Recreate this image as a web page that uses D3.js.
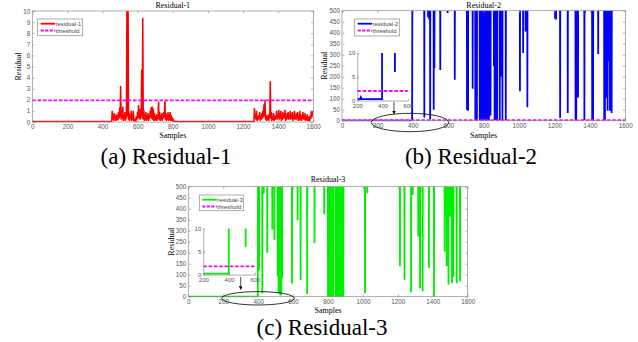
<!DOCTYPE html>
<html><head><meta charset="utf-8">
<script src="https://cdn.jsdelivr.net/npm/d3@7"></script>
<style>body{margin:0;background:#fff}svg{display:block}</style>
</head><body>
<svg id="c" width="638" height="342"></svg>
<script>
// ---------------- data ----------------
const xTicks = [0,200,400,600,800,1000,1200,1400,1600];
const yTicksR1 = [0,1,2,3,4,5,6,7,8,9,10];
const yTicksR23 = [0,50,100,150,200,250,300,350,400,450,500];
const insetXTicks = [200,400,600];
const insetYTicks = [0,5,10];
const threshold1 = 1.95, threshold2 = 2.0, threshold3 = 1.8;
const captions = ["(a) Residual-1","(b) Residual-2","(c) Residual-3"];

// residual-1: quiet level and two noisy bursts (peaks every 6 samples, troughs between)
const res1Quiet = 0.05;
const burst1Start = 455;
const burst1Peaks = [1.0,0.6,0.8,0.5,0.7,0.6,0.9,1.3,3.25,0.7,1.4,0.6,0.9,0.5,12,12,0.8,0.6,1.0,0.7,1.0,0.3,0.2,0.5,0.9,1.5,1.2,0.7,4.7,9.4,1.1,0.7,0.9,0.6,0.8,0.5,1.0,1.35,1.4,1.2,0.8,0.5,0.7,0.6,1.85,0.9,0.6,0.8,0.7,0.9,1.9,0.8,0.6,0.9,0.7,0.9,0.6,0.4,0.2];
const burst1Troughs = [0.2,0.1,0.3,0.1,0.2,0.15,0.3,0.4,0.2,0.3,0.1,0.2,0.1,0.3,0.5,0.2,0.1,0.3,0.1,0.2,0.05,0.05,0.1,0.2,0.4,0.3,0.2,0.6,0.3,0.2,0.1,0.2,0.1,0.2,0.1,0.3,0.4,0.3,0.2,0.1,0.1,0.2,0.1,0.3,0.2,0.1,0.2,0.1,0.3,0.4,0.2,0.1,0.2,0.1,0.2,0.1,0.1,0.05];
const burst2Start = 1265;
const burst2Peaks = [1.25,0.7,1.0,0.5,0.6,0.9,0.5,0.8,1.0,1.6,2.0,0.6,0.5,0.7,0.4,3.7,0.9,0.4,0.8,0.6,0.5,1.0,0.7,1.1,0.8,1.0,0.6,0.9,0.7,1.1,0.5,0.8,0.9,0.6,1.0,0.7,0.9,0.5,1.0,0.6,0.8,0.9,0.4,1.0,0.7,0.5,0.9,0.6,0.8,0.4,0.7,0.5,0.3,0.6,1.0,0.9];
const burst2Troughs = [0.3,0.2,0.1,0.2,0.3,0.1,0.2,0.3,0.4,0.5,0.2,0.1,0.2,0.1,0.6,0.3,0.1,0.2,0.1,0.2,0.3,0.2,0.4,0.2,0.3,0.1,0.2,0.3,0.4,0.1,0.2,0.3,0.2,0.3,0.2,0.3,0.1,0.3,0.2,0.2,0.3,0.1,0.3,0.2,0.1,0.3,0.2,0.2,0.1,0.2,0.1,0.1,0.2,0.3,0.4];
const res1End = [1600, 0.95];

// residual-2: low before fault, then mostly off-scale with dips [sample, value]
const res2Pre = [[0,0.3],[222,0.3],[228,0.7],[234,0.3],[396,0.3]];
const res2Rise = 398;
const res2High = 900;
const res2Dips = [[465,15],[486,470],[492,460],[498,6],[518,50],[522,240],[555,230],[596,490],[637,186],[706,50],[712,45],[738,145],[753,2],[758,5],[762,2],[778,3],[788,4],[792,0],[795,10],[799,2],[802,0],[806,5],[809,1],[813,0],[816,8],[820,2],[823,0],[827,4],[830,1],[834,20],[839,25],[858,250],[862,3],[870,2],[876,0],[891,3],[897,200],[906,1],[925,3],[1005,134],[1023,308],[1037,406],[1047,61],[1203,464],[1209,460],[1232,12],[1275,35],[1319,2],[1323,0],[1333,106],[1369,3],[1372,490],[1413,2],[1418,0],[1447,303],[1481,2],[1485,0],[1490,102],[1500,45],[1508,270],[1513,45],[1523,35]];

// residual-3
const res3Pre = [[0,0.2],[398,0.2]];
const res3Rise = 400;
const res3High = 900;
const res3Dips = [[405,120],[424,14],[432,468],[452,199],[481,305],[493,259],[512,95],[517,14],[521,90],[525,12],[529,6],[533,13],[537,85],[594,60],[626,348],[643,76],[681,12],[723,244],[778,375],[800,0],[804,3],[807,0],[811,5],[814,0],[818,2],[821,0],[825,4],[829,0],[843,0],[847,5],[851,250],[856,0],[860,3],[867,0],[872,2],[877,0],[882,4],[888,0],[1012,17],[1025,470],[1212,138],[1238,77],[1276,20],[1285,462],[1317,274],[1327,38],[1342,25],[1378,132],[1407,0],[1468,206],[1474,364],[1480,140],[1490,55],[1500,365],[1510,62],[1518,91],[1537,61],[1556,70]];

// ---------------- build series ----------------
function burstSeries(start, peaks, troughs) {
  const pts = [];
  peaks.forEach((p, i) => {
    pts.push([start + 6 * i, p]);
    if (troughs[i] !== undefined) pts.push([start + 6 * i + 3, troughs[i]]);
  });
  return pts;
}
const series1 = [[0,res1Quiet],[burst1Start-3,res1Quiet]]
  .concat(burstSeries(burst1Start, burst1Peaks, burst1Troughs))
  .concat([[burst1Start+6*burst1Peaks.length,res1Quiet],[burst2Start-3,res1Quiet]])
  .concat(burstSeries(burst2Start, burst2Peaks, burst2Troughs))
  .concat([res1End]);

function dipSeries(pre, rise, high, dips) {
  const pts = pre.slice();
  pts.push([rise, high]);
  dips.slice().sort((a,b)=>a[0]-b[0]).forEach(([s,v]) => {
    pts.push([s-1.2, high],[s, v],[s+1.2, high]);
  });
  pts.push([1600, high]);
  return pts;
}
const series2 = dipSeries(res2Pre, res2Rise, res2High, res2Dips);
const series3 = dipSeries(res3Pre, res3Rise, res3High, res3Dips);

// ---------------- drawing ----------------
const svg = d3.select('#c');
const defs = svg.append('defs');
defs.append('marker').attr('id','arr').attr('viewBox','0 0 10 10').attr('refX',9).attr('refY',5)
  .attr('markerWidth',5).attr('markerHeight',5).attr('orient','auto')
  .append('path').attr('d','M0,0L10,5L0,10z').attr('fill','#000');

const GRAY = '#8a8a8a';
const TICKFONT = "'Liberation Sans', Arial, sans-serif";
const SERIF = "'Liberation Serif', 'Times New Roman', 'DejaVu Serif', serif";
const MAGENTA = '#ff00ff';

function styleAxis(sel, fs) {
  sel.selectAll('.domain').remove();
  sel.selectAll('.tick line').attr('stroke', GRAY).attr('stroke-width', 0.6);
  sel.selectAll('.tick text').attr('fill', '#555').attr('font-size', fs).style('font-family', TICKFONT);
}

function panel(o) {
  const x = d3.scaleLinear().domain([0,1600]).range([o.x0,o.x1]);
  const y = d3.scaleLinear().domain([0,o.ymax]).range([o.yb,o.yt]);
  const g = svg.append('g');
  const cid = 'clip' + o.id;
  defs.append('clipPath').attr('id', cid).append('rect')
    .attr('x', o.x0).attr('y', o.yt).attr('width', o.x1 - o.x0).attr('height', o.yb - o.yt + 0.5);
  const line = d3.line().x(d => x(d[0])).y(d => y(d[1]));
  g.append('path').datum(o.data).attr('clip-path', `url(#${cid})`).attr('d', line)
    .attr('fill','none').attr('stroke', o.color).attr('stroke-width', o.sw).attr('stroke-linejoin','miter');
  if (o.thrMain) {
    g.append('path').datum([[0,o.thr],[1600,o.thr]]).attr('clip-path', `url(#${cid})`).attr('d', line)
      .attr('fill','none').attr('stroke', MAGENTA).attr('stroke-width', 1.8).attr('stroke-dasharray','3.5,1.8');
  }
  // frame
  g.append('rect').attr('x', o.x0).attr('y', o.yt).attr('width', o.x1 - o.x0).attr('height', o.yb - o.yt)
    .attr('fill','none').attr('stroke', GRAY).attr('stroke-width', 0.7);
  // axes
  const ab = g.append('g').attr('transform', `translate(0,${o.yb})`)
    .call(d3.axisBottom(x).tickValues(xTicks).tickSize(-2.5).tickPadding(2.5).tickFormat(d3.format('d')));
  styleAxis(ab, 6.3);
  const at = g.append('g').attr('transform', `translate(0,${o.yt})`)
    .call(d3.axisTop(x).tickValues(xTicks).tickSize(-2.5).tickFormat(''));
  styleAxis(at, 6.3);
  const al = g.append('g').attr('transform', `translate(${o.x0},0)`)
    .call(d3.axisLeft(y).tickValues(o.yTicks).tickSize(-2.5).tickPadding(2).tickFormat(d3.format('d')));
  styleAxis(al, 6.3);
  const ar = g.append('g').attr('transform', `translate(${o.x1},0)`)
    .call(d3.axisRight(y).tickValues(o.yTicks).tickSize(-2.5).tickFormat(''));
  styleAxis(ar, 6.3);
  // texts
  g.append('text').attr('x', (o.x0 + o.x1) / 2).attr('y', o.titleY).attr('text-anchor','middle')
    .style('font-family', SERIF).attr('font-size', 8).attr('fill','#000').text(o.title);
  g.append('text').attr('x', (o.x0 + o.x1) / 2).attr('y', o.sampY).attr('text-anchor','middle')
    .style('font-family', SERIF).attr('font-size', 8).attr('fill','#000').text('Samples');
  g.append('text').attr('transform', `translate(${o.ylabX},${(o.yt + o.yb) / 2}) rotate(-90)`)
    .attr('text-anchor','middle').attr('dominant-baseline','central')
    .style('font-family', SERIF).attr('font-size', 8).attr('fill','#000').text('Residual');
  // legend
  const L = o.legend;
  const lg = g.append('g');
  lg.append('rect').attr('x', L.x).attr('y', L.y).attr('width', L.w).attr('height', L.h)
    .attr('fill','#fff').attr('stroke', GRAY).attr('stroke-width', 0.7);
  const r1 = L.y + 4.7, r2 = L.y + 11.5;
  lg.append('line').attr('x1', L.x + 3).attr('x2', L.x + 17.5).attr('y1', r1).attr('y2', r1)
    .attr('stroke', o.color).attr('stroke-width', 1.8);
  lg.append('line').attr('x1', L.x + 3).attr('x2', L.x + 17.5).attr('y1', r2).attr('y2', r2)
    .attr('stroke', MAGENTA).attr('stroke-width', 1.8).attr('stroke-dasharray','3,1.5');
  lg.append('text').attr('x', L.x + 18).attr('y', r1).attr('dominant-baseline','central')
    .style('font-family', TICKFONT).attr('font-size', 5.8).attr('fill','#444').text(o.name);
  lg.append('text').attr('x', L.x + 18).attr('y', r2).attr('dominant-baseline','central')
    .style('font-family', TICKFONT).attr('font-size', 5.8).attr('fill','#444').text('threshold');
  return {x, y};
}

function inset(o) {
  const x = d3.scaleLinear().domain([200,600]).range([o.x0,o.x1]);
  const y = d3.scaleLinear().domain([0,10]).range([o.yb,o.yt]);
  const g = svg.append('g');
  const cid = 'iclip' + o.id;
  defs.append('clipPath').attr('id', cid).append('rect')
    .attr('x', o.x0).attr('y', o.yt).attr('width', o.x1 - o.x0).attr('height', o.yb - o.yt + 1.5);
  const line = d3.line().x(d => x(d[0])).y(d => y(d[1]));
  g.append('path').datum(o.data).attr('clip-path', `url(#${cid})`).attr('d', line)
    .attr('fill','none').attr('stroke', o.color).attr('stroke-width', 1.8);
  g.append('path').datum([[200,o.thr],[600,o.thr]]).attr('d', line)
    .attr('fill','none').attr('stroke', MAGENTA).attr('stroke-width', 1.8).attr('stroke-dasharray','3.5,1.8');
  const ab = g.append('g').attr('transform', `translate(0,${o.yb})`)
    .call(d3.axisBottom(x).tickValues(insetXTicks).tickSize(-1.5).tickSizeOuter(0).tickPadding(3).tickFormat(d3.format('d')));
  ab.select('.domain').attr('stroke', GRAY).attr('stroke-width', 0.7);
  ab.selectAll('.tick line').attr('stroke', GRAY);
  ab.selectAll('.tick text').attr('fill','#555').attr('font-size', 6).style('font-family', TICKFONT);
  const al = g.append('g').attr('transform', `translate(${o.x0},0)`)
    .call(d3.axisLeft(y).tickValues(insetYTicks).tickSize(-1.5).tickSizeOuter(0).tickPadding(2).tickFormat(d3.format('d')));
  al.select('.domain').attr('stroke', GRAY).attr('stroke-width', 0.7);
  al.selectAll('.tick line').attr('stroke', GRAY);
  al.selectAll('.tick text').attr('fill','#555').attr('font-size', 6).style('font-family', TICKFONT);
  // zoom ellipse + arrow
  svg.append('ellipse').attr('cx', o.ex).attr('cy', o.ey).attr('rx', o.erx).attr('ry', o.ery)
    .attr('fill','none').attr('stroke','#000').attr('stroke-width', 0.8);
  svg.append('line').attr('x1', o.ax).attr('x2', o.ax).attr('y1', o.ay1).attr('y2', o.ay2)
    .attr('stroke','#000').attr('stroke-width', 0.7).attr('marker-end','url(#arr)');
}

panel({id:'a', x0:32.3, x1:313.3, yt:11, yb:122, ymax:10, yTicks:yTicksR1, color:'#ff0000', sw:1.5,
  data:series1, thr:threshold1, thrMain:true, title:'Residual-1', name:'residual-1',
  titleY:7.5, sampY:138, ylabX:18.5, legend:{x:37.7, y:19, w:45, h:16.7}});
panel({id:'b', x0:342, x1:625.3, yt:10.7, yb:120.7, ymax:500, yTicks:yTicksR23, color:'#0000ff', sw:1.8,
  data:series2, thr:threshold2, thrMain:true, title:'Residual-2', name:'residual-2',
  titleY:7.5, sampY:138, ylabX:324.7, legend:{x:354.7, y:19, w:45, h:17}});
panel({id:'c', x0:188.3, x1:467.7, yt:186.7, yb:296.7, ymax:500, yTicks:yTicksR23, color:'#00ee00', sw:1.8,
  data:series3, thr:threshold3, thrMain:false, title:'Residual-3', name:'residual-3',
  titleY:182, sampY:312.5, ylabX:171, legend:{x:199.3, y:195, w:44, h:15.7}});

inset({id:'b', x0:357.3, x1:407.8, yt:53, yb:100.5, color:'#0000ff', data:series2, thr:threshold2,
  ex:410, ey:122.5, erx:38.7, ery:9.2, ax:394, ay1:102, ay2:114});
inset({id:'c', x0:203.3, x1:254.8, yt:228.5, yb:274.6, color:'#00ee00', data:series3, thr:threshold3,
  ex:258, ey:298.3, erx:36.3, ery:6.7, ax:240.7, ay1:277, ay2:289.5});

// captions
[[166,164],[471,164],[322,335]].forEach((p, i) => {
  svg.append('text').attr('x', p[0]).attr('y', p[1]).attr('text-anchor','middle')
    .style('font-family', SERIF).attr('font-size', 23).attr('fill','#000').text(captions[i]);
});
</script>
</body></html>
